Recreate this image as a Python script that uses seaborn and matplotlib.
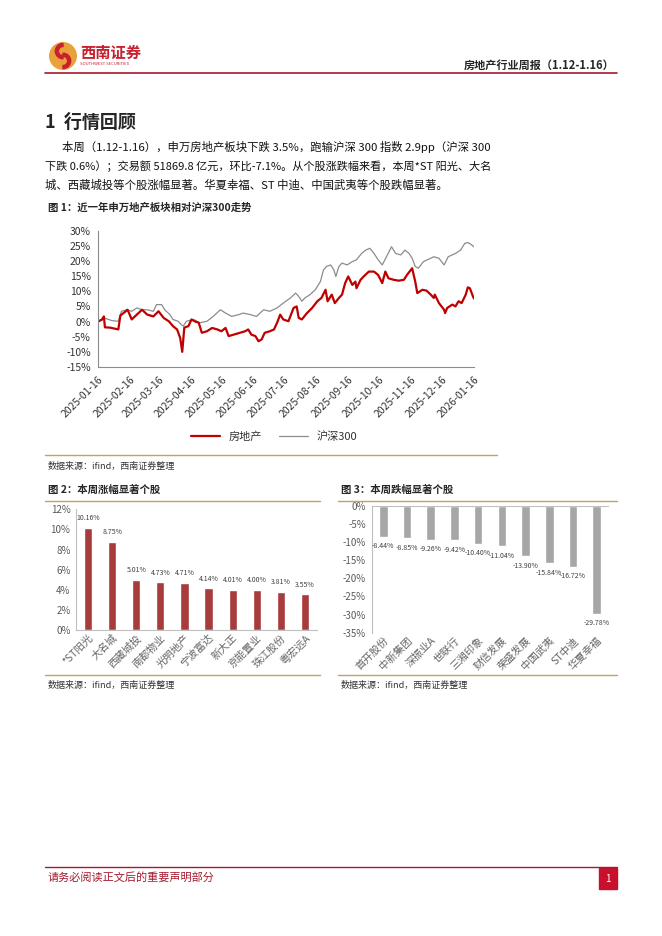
import numpy as np
import pandas as pd
import matplotlib
matplotlib.use("Agg")
import matplotlib.pyplot as plt
import matplotlib.patches as mpatches
import seaborn as sns

# ---- data ----
start_date = "2025-01-16"

# days after 2025-01-16, relative change in %
re_days = [0, 4, 6, 7, 12, 20, 22, 25, 29, 33, 38, 43, 48, 54, 59, 64, 69, 73, 77, 80,
           82, 84, 88, 91, 94, 98, 101, 106, 111, 116, 120, 124, 127, 132, 138, 143, 146, 149, 153, 156,
           159, 162, 167, 171, 174, 177, 180, 185, 190, 193, 195, 198, 203, 208, 213, 217, 221, 223, 227, 230,
           234, 237, 240, 243, 247, 250, 251, 255, 258, 263, 268, 272, 276, 279, 282, 287, 292, 297, 300, 305,
           308, 310, 315, 319, 323, 326, 327, 331, 336, 337, 339, 344, 347, 350, 353, 357, 359, 361, 364, 365]
re_vals = [0, 0.6, 1.7, -1.9, -2.0, -2.6, 2.0, 2.8, 3.9, 0.7, 2.3, 3.9, 2.3, 1.7, 3.4, 1.2, 0.1, -1.5, -2.6, -5.4,
           -10.0, -2.0, -1.5, 0.7, 0.1, -0.4, -3.7, -3.2, -2.1, -2.6, -3.2, -2.1, -4.8, -4.3, -3.7, -3.2, -2.6, -4.3, -4.8, -6.5,
           -5.9, -3.7, -3.2, -2.6, -0.4, 2.3, 0.7, 0.1, 4.5, 5.0, 1.2, 0.7, 2.8, 4.5, 6.7, 7.8, 10.5, 6.7, 8.9, 6.1,
           7.8, 8.9, 12.7, 14.9, 12.1, 13.2, 11.0, 13.8, 14.9, 16.5, 16.5, 15.4, 12.7, 16.5, 14.3, 13.8, 13.5, 13.8, 15.4, 17.6,
           13.2, 9.4, 10.5, 10.2, 8.9, 7.8, 8.9, 6.1, 3.9, 2.8, 4.5, 5.6, 5.0, 6.7, 6.1, 8.9, 11.3, 11.0, 8.3, 7.6]

hs_days = [0, 6, 14, 20, 23, 28, 33, 38, 43, 48, 54, 57, 62, 65, 70, 73, 78, 81, 83, 86,
           93, 99, 106, 112, 119, 124, 130, 137, 141, 148, 154, 161, 167, 174, 180, 187, 192, 195, 198, 201,
           206, 211, 216, 219, 222, 226, 229, 231, 234, 237, 242, 247, 251, 256, 260, 264, 268, 272, 276, 281,
           285, 289, 294, 298, 302, 305, 308, 311, 316, 323, 326, 331, 336, 340, 347, 352, 356, 359, 362, 365]
hs_vals = [0, 1.2, 0.3, 0.1, 3.4, 3.9, 3.4, 4.5, 3.9, 3.9, 3.4, 5.6, 5.6, 3.9, 2.3, 0.7, 0.1, -1.0, -1.5, 0.1,
           0.7, -0.4, 0.1, 1.7, 3.9, 2.8, 1.7, 2.3, 2.8, 2.3, 1.7, 3.9, 3.4, 4.5, 6.1, 7.8, 9.4, 8.3, 6.7, 7.8,
           8.9, 10.5, 13.2, 17.1, 18.2, 18.7, 17.1, 14.9, 18.2, 19.3, 18.7, 19.8, 20.4, 22.5, 23.6, 24.2, 22.5, 20.4, 18.7, 22.0,
           24.7, 22.5, 22.0, 23.6, 22.5, 20.9, 18.2, 17.6, 19.8, 20.9, 21.4, 20.9, 18.7, 21.4, 22.5, 23.6, 25.8, 26.1, 25.5, 24.7]

up_names = ["*ST阳光", "大名城", "西藏城投", "南都物业", "光明地产", "宁波富达", "新大正", "京能置业", "珠江股份", "粤宏远A"]
up_vals = [10.16, 8.75, 5.01, 4.73, 4.71, 4.14, 4.01, 4.00, 3.81, 3.55]

down_names = ["首开股份", "中新集团", "深振业A", "世联行", "三湘印象", "财信发展", "荣盛发展", "中国武夷", "ST中迪", "华夏幸福"]
down_vals = [-8.44, -8.85, -9.26, -9.42, -10.40, -11.04, -13.90, -15.84, -16.72, -29.78]

body_lines = [
    "本周（1.12-1.16），申万房地产板块下跌 3.5%，跑输沪深 300 指数 2.9pp（沪深 300",
    "下跌 0.6%）；交易额 51869.8 亿元，环比-7.1%。从个股涨跌幅来看，本周*ST 阳光、大名",
    "城、西藏城投等个股涨幅显著。华夏幸福、ST 中迪、中国武夷等个股跌幅显著。",
]

# ---- style ----
sns.set_style("white")
plt.rcParams['font.family'] = ['Noto Sans CJK SC', 'DejaVu Sans']
plt.rcParams['axes.unicode_minus'] = False

RED = "#A6192E"
GOLD = "#C5A35A"
W, H = 662, 936
fig = plt.figure(figsize=(W / 100, H / 100), dpi=100)


def fx(x):
    return x / W


def fy(y):
    return 1 - y / H


def box(l, t, r, b):
    return [l / W, 1 - b / H, (r - l) / W, (b - t) / H]


def hline(x0, x1, y, color, lw=1.0):
    fig.add_artist(plt.Line2D([fx(x0), fx(x1)], [fy(y), fy(y)], color=color, lw=lw))


def txt(x, y, s, **kw):
    fig.text(fx(x), fy(y), s, **kw)


# ---- header ----
lax = fig.add_axes(box(49, 42, 77, 70))
lax.set_xlim(-1, 1)
lax.set_ylim(-1, 1)
lax.set_aspect("equal")
lax.axis("off")
lax.add_patch(mpatches.Circle((0, 0), 0.95, color="#E9A23B"))
lax.add_patch(mpatches.Wedge((0, 0.35), 0.55, 90, 270, width=0.22, color="#C8202F"))
lax.add_patch(mpatches.Wedge((0, -0.35), 0.55, -90, 90, width=0.22, color="#C8202F"))
txt(80, 53, "西南证券", color="#C8202F", fontsize=11, fontweight="bold", va="center")
txt(80, 64, "SOUTHWEST SECURITIES", color="#C8202F", fontsize=3, va="center")
txt(614, 65, "房地产行业周报（1.12-1.16）", fontsize=8, fontweight="bold", ha="right", va="center")
hline(45, 617, 73, RED, 1.2)

txt(45, 122, "1  行情回顾", fontsize=13, fontweight="bold", va="center")
txt(62, 147, body_lines[0], fontsize=8.2, va="center", color="#111111")
txt(45, 166, body_lines[1], fontsize=8.0, va="center", color="#111111")
txt(45, 185, body_lines[2], fontsize=8.2, va="center", color="#111111")

# ---- figure 1: line chart ----
txt(48, 208, "图 1：近一年申万地产板块相对沪深300走势", fontsize=7.5, fontweight="bold", va="center")
t0 = pd.Timestamp(start_date)
df_re = pd.DataFrame({"date": t0 + pd.to_timedelta(re_days, unit="D"), "value": re_vals})
df_hs = pd.DataFrame({"date": t0 + pd.to_timedelta(hs_days, unit="D"), "value": hs_vals})

ax1 = fig.add_axes(box(97.7, 230.7, 474, 367))
sns.lineplot(data=df_hs, x="date", y="value", color="#8C8C8C", lw=0.9, ax=ax1, label="沪深300")
sns.lineplot(data=df_re, x="date", y="value", color="#C00000", lw=1.6, ax=ax1, label="房地产")
ax1.set_ylim(-15, 30)
ax1.set_yticks(np.arange(-15, 31, 5))
ax1.set_yticklabels([f"{v}%" for v in range(-15, 31, 5)])
xt = pd.date_range(t0, periods=13, freq=pd.DateOffset(months=1))
ax1.set_xlim(xt[0], xt[-1])
ax1.set_xticks(xt)
ax1.set_xticklabels([d.strftime("%Y-%m-%d") for d in xt], rotation=45, ha="right", rotation_mode="anchor")
ax1.set_xlabel("")
ax1.set_ylabel("")
for s in ["top", "right"]:
    ax1.spines[s].set_visible(False)
for s in ["left", "bottom"]:
    ax1.spines[s].set_color("#8C8C8C")
    ax1.spines[s].set_linewidth(0.8)
ax1.tick_params(axis="both", labelsize=7.5, colors="#8C8C8C", labelcolor="#333333",
                direction="out", length=3, width=0.8, pad=2)
h, l = ax1.get_legend_handles_labels()
ax1.legend_.remove()
fig.legend(h[::-1], l[::-1], loc="center", bbox_to_anchor=(fx(274), fy(437)), ncol=2,
           frameon=False, fontsize=8, handlelength=2.6, columnspacing=1.5, labelcolor="#333333")
hline(45, 497, 455, GOLD, 1.0)
txt(48, 466, "数据来源：ifind，西南证券整理", fontsize=6.5, style="italic", va="center", color="#333333")

# ---- figure 2: gainers ----
txt(48, 490, "图 2：本周涨幅显著个股", fontsize=7.5, fontweight="bold", va="center")
hline(45, 320, 500.5, GOLD, 1.0)
ax2 = fig.add_axes(box(76, 509.3, 317, 630))
sns.barplot(x=up_names, y=up_vals, color="#A83B3B", width=0.34, saturation=1, ax=ax2)
ax2.set_ylim(0, 12)
ax2.set_yticks(np.arange(0, 13, 2))
ax2.set_yticklabels([f"{v}%" for v in range(0, 13, 2)])
for i, v in enumerate(up_vals):
    ax2.annotate(f"{v:.2f}%", (i, v), xytext=(0, 4), textcoords="offset points",
                 ha="center", va="bottom", fontsize=5, color="#404040")

# ---- figure 3: losers ----
txt(341, 490, "图 3：本周跌幅显著个股", fontsize=7.5, fontweight="bold", va="center")
hline(338, 617, 500.5, GOLD, 1.0)
ax3 = fig.add_axes(box(371.5, 506, 608.5, 632.7))
sns.barplot(x=down_names, y=down_vals, color="#A6A6A6", width=0.36, saturation=1, ax=ax3)
ax3.set_ylim(-35, 0)
ax3.set_yticks(np.arange(-35, 1, 5))
ax3.set_yticklabels(["0%" if v == 0 else f"{v}%" for v in range(-35, 1, 5)])
ax3.axhline(0, color="#BFBFBF", lw=0.8)
for i, v in enumerate(down_vals):
    ax3.annotate(f"{v:.2f}%", (i, v), xytext=(0, -4), textcoords="offset points",
                 ha="center", va="top", fontsize=5, color="#404040")

for ax in (ax2, ax3):
    ax.set_xlim(-0.5, 9.5)
    ax.set_xlabel("")
    ax.set_ylabel("")
    for s in ["top", "right"]:
        ax.spines[s].set_visible(False)
    ax.spines["left"].set_color("#BFBFBF")
    ax.spines["bottom"].set_color("#BFBFBF")
    ax.tick_params(axis="y", labelsize=7, labelcolor="#595959", colors="#BFBFBF",
                   direction="out", length=3, pad=1)
    ax.tick_params(axis="x", labelsize=7.5, labelcolor="#666666", length=0, pad=2)
    plt.setp(ax.get_xticklabels(), rotation=45, ha="right", rotation_mode="anchor")
ax3.spines["bottom"].set_visible(False)

hline(45, 320, 675, GOLD, 1.0)
txt(48, 685, "数据来源：ifind，西南证券整理", fontsize=6.5, style="italic", va="center", color="#333333")
hline(338, 617, 675, GOLD, 1.0)
txt(341, 685, "数据来源：ifind，西南证券整理", fontsize=6.5, style="italic", va="center", color="#333333")

# ---- footer ----
hline(45, 617, 867, RED, 1.0)
txt(48, 877, "请务必阅读正文后的重要声明部分", fontsize=8, color=RED, va="center")
fig.add_artist(mpatches.Rectangle((fx(599), fy(889)), fx(617) - fx(599), fy(868) - fy(889),
                                  color="#C8102E", transform=fig.transFigure))
txt(608, 878.5, "1", fontsize=7, color="white", ha="center", va="center")

fig.savefig("out.png", dpi=100)
